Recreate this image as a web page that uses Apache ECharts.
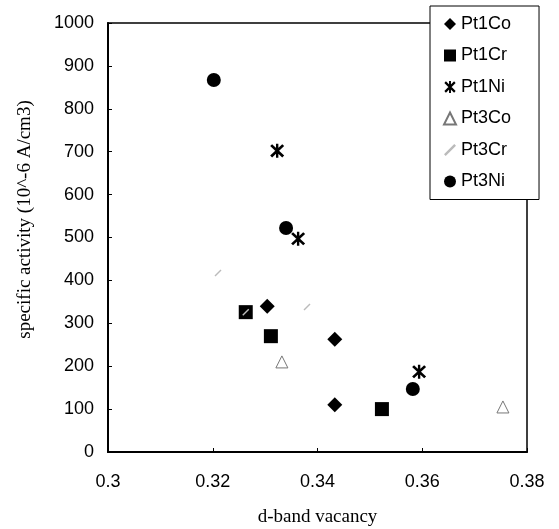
<!DOCTYPE html>
<html>
<head>
  <meta charset="UTF-8" />
  <title>specific activity vs d-band vacancy</title>
  <script src="https://cdn.jsdelivr.net/npm/echarts@6/dist/echarts.min.js"></script>
  <style>
    body { margin: 0; background: #fff; }
    #chart { width: 559px; height: 529px; }
  </style>
</head>
<body>
<div id="chart"></div>
<script>
  // data: [d-band vacancy, specific activity]
  const seriesNames = ['Pt1Co', 'Pt1Cr', 'Pt1Ni', 'Pt3Co', 'Pt3Cr', 'Pt3Ni'];
  const pt1Co = [[0.3304, 340], [0.3433, 263], [0.3433, 110]];
  const pt1Cr = [[0.3263, 326], [0.3311, 270], [0.3523, 100]];
  const pt1Ni = [[0.3323, 702], [0.3363, 497], [0.3594, 187]];
  const pt3Co = [[0.3332, 210], [0.3754, 105]];
  const pt3Cr = [[0.3210, 417], [0.3380, 338], [0.3263, 326]];
  const pt3Ni = [[0.3202, 867], [0.3340, 522], [0.3582, 147]];

  const xTicks = { min: 0.3, max: 0.38, step: 0.02 };
  const yTicks = { min: 0, max: 1000, step: 100 };

  // marker shapes (asterisk like the old excel star marker)
  const starPath = 'path://M4.2 0L5.8 0L5.8 10L4.2 10Z M1.6 0.3L9.7 8.4L8.4 9.7L0.3 1.6Z M8.4 0.3L9.7 1.6L1.6 9.7L0.3 8.4Z';
  const dashPath = 'path://M0 10L6 4L7 5L1 11Z';

  const styles = {
    Pt1Co: { symbol: 'diamond', symbolSize: 15, itemStyle: { color: '#000', opacity: 1 } },
    Pt1Cr: { symbol: 'rect', symbolSize: 14, itemStyle: { color: '#000', opacity: 1 } },
    Pt1Ni: { symbol: starPath, symbolSize: 14, itemStyle: { color: '#000', opacity: 1 } },
    Pt3Co: { symbol: 'triangle', symbolSize: 12, itemStyle: { color: '#fff', borderColor: '#777', borderWidth: 1, opacity: 1 } },
    Pt3Cr: { symbol: dashPath, symbolSize: 7, itemStyle: { color: '#bbb', opacity: 1 } },
    Pt3Ni: { symbol: 'circle', symbolSize: 14, itemStyle: { color: '#000', opacity: 1 } }
  };
  const dataByName = { Pt1Co: pt1Co, Pt1Cr: pt1Cr, Pt1Ni: pt1Ni, Pt3Co: pt3Co, Pt3Cr: pt3Cr, Pt3Ni: pt3Ni };

  const chart = echarts.init(document.getElementById('chart'));

  const series = seriesNames.map(function (name) {
    return Object.assign({
      name: name,
      type: 'scatter',
      data: dataByName[name]
    }, styles[name]);
  });

  chart.setOption({
    animation: false,
    grid: {
      left: 108, right: 32, top: 23, bottom: 77,
      outerBoundsMode: 'none',
      containLabel: false,
      show: true, borderColor: '#000', borderWidth: 1.5, backgroundColor: '#fff'
    },
    legend: {
      data: seriesNames,
      orient: 'vertical',
      left: 430,
      top: 6,
      padding: [9, 28, 9, 13],
      itemWidth: 12,
      itemHeight: 12,
      itemGap: 13.5,
      backgroundColor: '#fff',
      borderColor: '#000',
      borderWidth: 1,
      textStyle: { fontFamily: 'Liberation Sans, Arial, sans-serif', fontSize: 18, color: '#000' }
    },
    xAxis: {
      type: 'value',
      min: xTicks.min, max: xTicks.max, interval: xTicks.step,
      name: 'd-band vacancy',
      nameLocation: 'middle',
      nameGap: 56,
      nameTextStyle: { fontFamily: 'Liberation Serif, Times New Roman, serif', fontSize: 19, color: '#000' },
      axisLine: { lineStyle: { color: '#000', width: 2 } },
      axisTick: { inside: true, length: 4, lineStyle: { color: '#000' } },
      axisLabel: { margin: 21, fontFamily: 'Liberation Sans, Arial, sans-serif', fontSize: 18, color: '#000' },
      splitLine: { show: false }
    },
    yAxis: {
      type: 'value',
      min: yTicks.min, max: yTicks.max, interval: yTicks.step,
      name: 'specific activity (10^-6 A/cm3)',
      nameLocation: 'middle',
      nameGap: 73,
      nameTextStyle: { fontFamily: 'Liberation Serif, Times New Roman, serif', fontSize: 19, color: '#000', padding: [0, 0, 0, 36] },
      axisLine: { lineStyle: { color: '#000', width: 2 } },
      axisTick: { inside: true, length: 4, lineStyle: { color: '#000' } },
      axisLabel: {
        margin: 14, fontFamily: 'Liberation Sans, Arial, sans-serif', fontSize: 18, color: '#000',
        formatter: function (v) { return String(v); }
      },
      splitLine: { show: false }
    },
    series: series
  });
</script>
</body>
</html>
